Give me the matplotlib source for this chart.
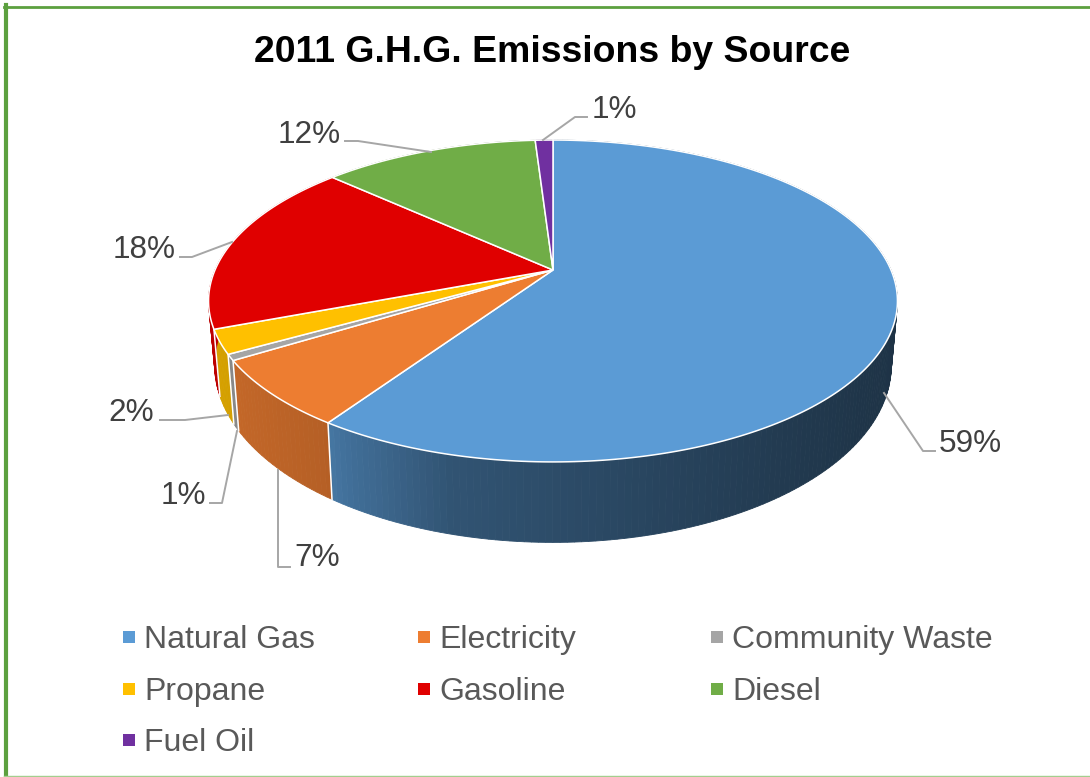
import numpy as np
from matplotlib import pyplot as plt
from matplotlib.colors import to_rgb

plt.rcParams["font.family"] = ["Liberation Sans", "DejaVu Sans"]

# Values (slice sizes in percent)
sources = ["Natural Gas", "Electricity", "Community Waste", "Propane", "Gasoline", "Diesel", "Fuel Oil"]
shares = [59.45, 6.75, 0.6, 2.4, 17.6, 12.2, 1.0]
colors = ["#5B9BD5", "#ED7D31", "#A5A5A5", "#FFC000", "#E00000", "#70AD47", "#7030A0"]

title = "2011 G.H.G. Emissions by Source"
text_gray = "#595959"
label_gray = "#404040"
line_gray = "#A6A6A6"
frame_green = "#5CA03F"

# Perspective of the pie: unit circle -> pixels, for top face and bottom rim
CX = 553
TILT = 0.1925
TOP = dict(k=338, a=-103, b=270)
BOTTOM = dict(k=332, a=-107, b=331)

# Label text position and leader line for each slice, in pixels
label_pos = [(970, 444), (317, 558), (183, 496), (131, 413), (144, 250), (309, 135), (614, 110)]
leaders = [
    [(884, 393), (923, 451), (935, 451)],
    [(278, 470), (278, 567), (290, 567)],
    [(237, 431), (222, 503), (210, 503)],
    [(228, 415), (185, 420), (160, 420)],
    [(232, 242), (192, 257), (180, 257)],
    [(431, 152), (358, 141), (345, 141)],
    [(543, 140), (575, 117), (587, 117)],
]


def project(theta, rim):
    # theta in degrees, clockwise from twelve o'clock
    rad = np.radians(theta)
    x, y = np.sin(rad), np.cos(rad)
    w = 1 + TILT * y
    return CX + rim["k"] * x / w, (rim["b"] + rim["a"] * y) / w


def wall_shade(px):
    return np.interp(px, [210, 330, 345, 450, 600, 800, 895], [0.84, 0.76, 0.72, 0.54, 0.47, 0.37, 0.33])


fig = plt.figure(figsize=(10.9, 7.77), dpi=100)
ax = fig.add_axes([0, 0, 1, 1])
ax.set_xlim(0, 1090)
ax.set_ylim(777, 0)
ax.axis("off")

edges = np.concatenate([[0], np.cumsum(shares)]) * 3.6

# Side wall first, the top faces cover whatever is at the back
for i, color in enumerate(colors):
    base = np.array(to_rgb(color))
    start, end = edges[i], edges[i + 1]
    steps = np.linspace(start, end, max(int(end - start), 1) + 1)
    for t0, t1 in zip(steps[:-1], steps[1:]):
        x0, y0 = project(np.array([t0, t1]), TOP)
        x1, y1 = project(np.array([t1, t0]), BOTTOM)
        shade = base * wall_shade((x0[0] + x0[1]) / 2)
        ax.fill(np.r_[x0, x1], np.r_[y0, y1], color=tuple(shade), lw=0.6, zorder=2)

# White seams on the visible wall
for t in edges[1:5]:
    x0, y0 = project(t, TOP)
    x1, y1 = project(t, BOTTOM)
    ax.plot([x0, x1], [y0, y1], color="white", lw=1.1, zorder=3)

# Top faces
cx, cy = CX, TOP["b"]
for i, color in enumerate(colors):
    theta = np.linspace(edges[i], edges[i + 1], max(int(shares[i] * 4), 2) + 1)
    px, py = project(theta, TOP)
    ax.fill(np.r_[cx, px], np.r_[cy, py], facecolor=color, edgecolor="white", lw=1.1, zorder=4)

# Leader lines and percent labels
for share, pos, leader in zip(shares, label_pos, leaders):
    lx, ly = zip(*leader)
    ax.plot(lx, ly, color=line_gray, lw=1.4, zorder=5)
    ax.text(pos[0], pos[1], f"{share:.0f}%", fontsize=22.7, color=label_gray, ha="center", va="center")

ax.text(552, 52, title, fontsize=26.9, fontweight="bold", color="black", ha="center", va="center")

# Legend, filled row by row
legend_cols = [129, 423.5, 716.5]
legend_rows = [637, 689, 740]
for i, (name, color) in enumerate(zip(sources, colors)):
    lx = legend_cols[i % 3]
    ly = legend_rows[i // 3]
    ax.plot(lx, ly, marker="s", ms=8, color=color, mew=0, ls="none")
    ax.text(lx + 15.5, ly + 3, name, fontsize=23, color=text_gray, ha="left", va="center")

# Chart frame: heavy at top and left, thin along the bottom
ax.plot([6, 6], [5, 777], color=frame_green, lw=3)
ax.plot([4, 1090], [6.5, 6.5], color=frame_green, lw=2)
ax.plot([4, 1090], [775.5, 775.5], color="#A3CE8E", lw=1)

fig.savefig("out.png", dpi=100)
